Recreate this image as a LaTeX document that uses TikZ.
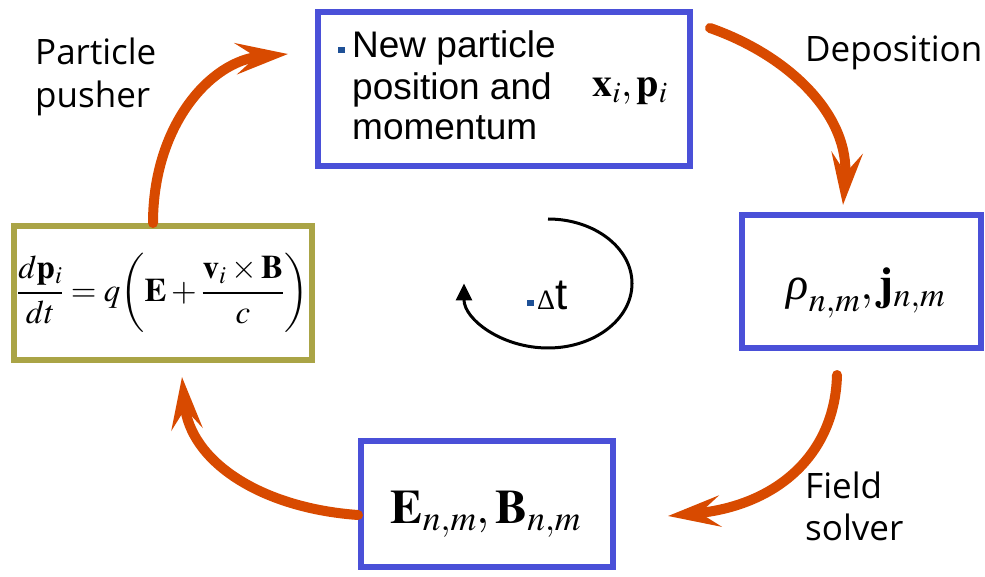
\documentclass[tikz,border=0pt]{standalone}
\usepackage{mathptmx}
\usepackage{fontspec}
\setmainfont{Liberation Serif}
\newfontfamily\arialf{Liberation Sans}
\newfontfamily\handf{Open Sans}
\usetikzlibrary{arrows.meta}
\definecolor{boxblue}{RGB}{74,80,216}
\definecolor{boxolive}{RGB}{170,164,70}
\definecolor{flowred}{RGB}{216,74,0}
\definecolor{bulletblue}{RGB}{30,80,150}
\newcommand{\itrho}{\mbox{\itshape ρ}}
\begin{document}
\begin{tikzpicture}[x=1pt,y=1pt,
  bluebox/.style={draw=boxblue, line width=6pt, fill=white, inner sep=0pt},
  olivebox/.style={draw=boxolive, line width=6pt, fill=white, inner sep=0pt},
  flow/.style={draw=flowred, line width=10pt, line cap=round,
    -{Stealth[length=52pt,width=31pt,inset=20pt]}},
  looparrow/.style={draw=black, line width=3pt, -{Triangle[length=17pt,width=16pt]}},
  lbl/.style={font=\handf\fontsize{35}{42}\selectfont, anchor=base west, inner sep=0pt},
  boxtxt/.style={font=\arialf\fontsize{37}{41}\selectfont, anchor=base west, inner sep=0pt},
  sqbullet/.style={fill=bulletblue, inner sep=0pt, minimum size=6.5pt},
  mathtxt/.style={anchor=base, inner sep=0pt}]
\useasboundingbox (0,0) rectangle (985,576);

% boxes
\node[bluebox, minimum width=372pt, minimum height=154pt] (newpos) at (504,487) {};
\node[olivebox, minimum width=298pt, minimum height=134pt,
      font=\fontsize{33}{38}\selectfont] (push) at (163,283)
  {$\displaystyle\frac{d\mathbf{p}_i}{dt}=q{\left(\mathbf{E}+\frac{\mathbf{v}_i\times\mathbf{B}}{c}\right)}$};
\node[bluebox, minimum width=239pt, minimum height=133pt] (rhoj) at (861.5,294.5) {};
\node[bluebox, minimum width=252pt, minimum height=126pt] (eb) at (487,72) {};

% texts in boxes
\node[sqbullet] (b1) at (341.5,526) {};
\node[boxtxt] (t1) at (352,518) {New particle};
\node[boxtxt] (t2) at (352,476) {position and};
\node[boxtxt] (t3) at (352,436) {momentum};
\node[mathtxt, font=\fontsize{40}{44}\selectfont] (xp) at (630,479) {$\mathbf{x}_i,\mathbf{p}_i$};
\node[mathtxt, font=\fontsize{46}{50}\selectfont] (rj) at (866,276) {$\itrho_{n,m},\mathbf{j}_{n,m}$};
\node[mathtxt, font=\fontsize{48}{52}\selectfont] (ebt) at (486,53) {$\mathbf{E}_{n,m},\mathbf{B}_{n,m}$};

% labels
\node[lbl] (lp1) at (35,511) {Particle};
\node[lbl] (lp2) at (35,468) {pusher};
\node[lbl] (ld) at (805,514) {Deposition};
\node[lbl] (lf1) at (805,78) {Field};
\node[lbl] (lf2) at (805,36) {solver};

% time step
\node[sqbullet] (b2) at (530.5,273) {};
\node[anchor=base west, inner sep=0pt] (dt) at (537,266)
  {{\fontsize{28}{30}\selectfont Δ}{\arialf\fontsize{44}{46}\selectfont t}};
\coordinate (dtstart) at (548,357);
\draw[looparrow] (dtstart) arc[start angle=90, end angle=-180, x radius=84, y radius=64.5];

% flow arrows
\coordinate (a1e) at (288,522);
\coordinate (a2s) at (710,548);
\coordinate (a2e) at (843,371);
\coordinate (a3s) at (837,201);
\coordinate (a3e) at (668,60);
\coordinate (a4e) at (182,199);
\draw[flow] ([xshift=-10pt]push.north) .. controls (153,450) and (210,515) .. (a1e);
\draw[flow] (a2s) .. controls (790,520) and (850,460) .. (a2e);
\draw[flow] (a3s) .. controls (835,120) and (775,70) .. (a3e);
\draw[flow] ([yshift=-11pt]eb.west) .. controls (260,68) and (190,115) .. (a4e);
\end{tikzpicture}
\end{document}
